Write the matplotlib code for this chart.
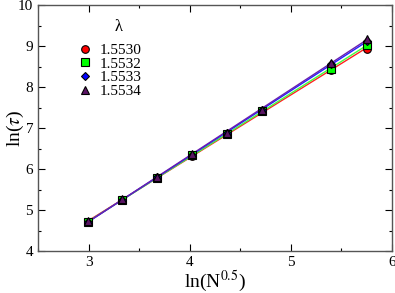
import numpy as np
import matplotlib.pyplot as plt
from matplotlib.ticker import MultipleLocator

plt.rcParams['font.family'] = ['Liberation Serif', 'DejaVu Serif']
plt.rcParams['mathtext.fontset'] = 'stix'

## ln(N^0.5) values
x = np.array([2.99, 3.33, 3.68, 4.02, 4.37, 4.71, 5.40, 5.75])

## ln(tau) for each lambda
y_15530 = np.array([4.70, 5.24, 5.79, 6.32, 6.85, 7.41, 8.42, 8.92])
y_15532 = np.array([4.70, 5.24, 5.79, 6.33, 6.86, 7.42, 8.44, 9.02])
y_15533 = np.array([4.71, 5.25, 5.80, 6.35, 6.88, 7.44, 8.55, 9.12])
y_15534 = np.array([4.72, 5.26, 5.81, 6.36, 6.89, 7.45, 8.59, 9.18])

labels = ['1.5530', '1.5532', '1.5533', '1.5534']
series = [y_15530, y_15532, y_15533, y_15534]
markers = ['o', 's', 'D', '^']
fills = ['#ff0000', '#00ff00', '#0000ff', '#5a1464']
linecols = ['#ff2020', '#40ff40', '#2020ff', '#6a1fb0']
msizes = [5.5, 5.5, 4.5, 5.5]

W, H = 395, 293
fig = plt.figure(figsize=(W / 100, H / 100), dpi=100)
ax = fig.add_axes([38 / W, 1 - 251 / H, 354 / W, 246 / H])

## straight line fits first, markers on top
for ys, lc in zip(series, linecols):
    k, b = np.polyfit(x, ys, 1)
    xx = np.array([x.min(), x.max()])
    ax.plot(xx, k * xx + b, color=lc, lw=1.0, zorder=2)

for ys, m, fc, ms, lab in zip(series, markers, fills, msizes, labels):
    ax.plot(x, ys, ls='none', marker=m, ms=ms, mfc=fc, mec='black',
            mew=0.8, label=lab, zorder=3)

ax.set_xlim(2.5, 6)
ax.set_ylim(4, 10)
ax.xaxis.set_major_locator(MultipleLocator(1))
ax.xaxis.set_minor_locator(MultipleLocator(0.5))
ax.yaxis.set_major_locator(MultipleLocator(1))
ax.yaxis.set_minor_locator(MultipleLocator(0.5))
ax.tick_params(which='both', direction='in', top=True, right=True,
               labelsize=11, width=0.8)
ax.tick_params(which='major', length=5)
ax.tick_params(which='minor', length=2.5)
for sp in ax.spines.values():
    sp.set_linewidth(1.0)
    sp.set_color('#555555')

fig.text(215 / W, 1 - 281 / H, r'ln(N$^{0.5}$)', fontsize=14,
         ha='center', va='center')
fig.text(15 / W, 1 - 128 / H, r'ln($\tau$)', fontsize=14,
         ha='center', va='center', rotation=90)

leg = ax.legend(loc='upper left', bbox_to_anchor=(0.085, 0.882),
                frameon=False, fontsize=11, handlelength=1.0,
                handletextpad=0.45, labelspacing=0.0, borderpad=0.1)
ax.text((119 - 38) / 354, 1 - (27 - 5) / 246, 'λ',
        transform=ax.transAxes, ha='center', va='center', fontsize=12)

fig.savefig('out.png', dpi=100)
